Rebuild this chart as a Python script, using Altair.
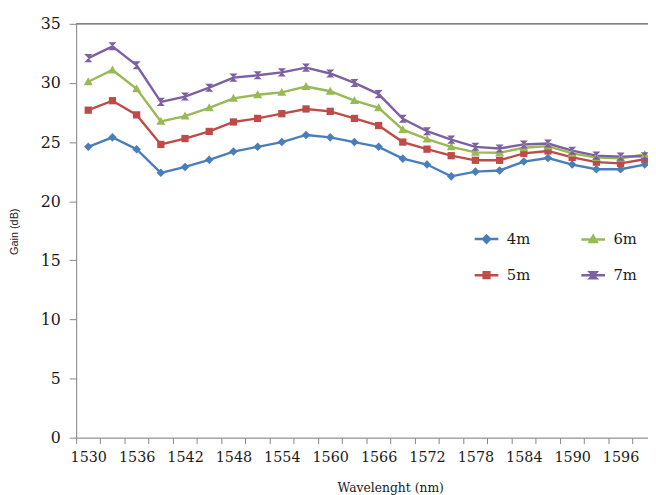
import altair as alt
import pandas as pd

# ---- data ----
wavelength = list(range(1530, 1600, 3))  # 1530 ... 1599 (24 points)
series_names = ["4m", "5m", "6m", "7m"]
gain_4m = [24.6, 25.4, 24.4, 22.4, 22.9, 23.5, 24.2, 24.6, 25.0, 25.6, 25.4, 25.0,
           24.6, 23.6, 23.1, 22.1, 22.5, 22.6, 23.35, 23.65, 23.1, 22.7, 22.7, 23.1]
gain_5m = [27.7, 28.5, 27.3, 24.8, 25.3, 25.9, 26.7, 27.0, 27.4, 27.8, 27.6, 27.0,
           26.4, 25.0, 24.4, 23.85, 23.46, 23.46, 24.05, 24.25, 23.7, 23.3, 23.2, 23.55]
gain_6m = [30.1, 31.1, 29.5, 26.75, 27.2, 27.9, 28.7, 29.0, 29.2, 29.7, 29.3, 28.5,
           27.9, 26.05, 25.25, 24.6, 24.13, 24.1, 24.52, 24.66, 24.05, 23.68, 23.63, 23.95]
gain_7m = [32.1, 33.1, 31.5, 28.4, 28.85, 29.6, 30.45, 30.65, 30.9, 31.3, 30.8, 30.0,
           29.06, 26.97, 25.92, 25.21, 24.6, 24.46, 24.8, 24.88, 24.27, 23.85, 23.77, 23.8]
y_ticks = [0, 5, 10, 15, 20, 25, 30, 35]
x_label_first = 1530
x_step = 3

colors = ["#4A7EBB", "#BE4B48", "#98B954", "#7D60A0"]
marker_paths = [
    "M0,-1L1,0L0,1L-1,0Z",                    # diamond
    "M-0.85,-0.85H0.85V0.85H-0.85Z",          # square
    "M0,-1.05L1.05,0.8H-1.05Z",               # triangle
    "M-0.95,-0.95H0.95L-0.95,0.95H0.95Z",     # hourglass
]
# legend symbols: line segment + stroked marker (inner strokes fill it)
legend_paths = [
    "M-1,0H1M0,-0.3L0.3,0L0,0.3L-0.3,0ZM0,-0.15V0.15",
    "M-1,0H1M-0.24,-0.24H0.24V0.24H-0.24ZM0,-0.2V0.2",
    "M-1,0H1M0,-0.3L0.3,0.22H-0.3ZM0,-0.1V0.2",
    "M-1,0H1M-0.26,-0.26H0.26L-0.26,0.26H0.26Z",
]

SERIF = "DejaVu Serif"
SANS = "Liberation Sans, Arial, DejaVu Sans, sans-serif"

rows = []
for name, vals in zip(series_names, [gain_4m, gain_5m, gain_6m, gain_7m]):
    for w, g in zip(wavelength, vals):
        rows.append({"wavelength": w, "gain": g, "series": name})
df = pd.DataFrame(rows)

half = x_step / 2
x_lo = x_label_first - half
boundaries = [x_lo + x_step * j for j in range(len(wavelength))]
cat_px = 24.5
plot_w = 579
x_hi = x_lo + plot_w / cat_px * x_step

label_expr = (
    f"round((datum.value - {x_lo}) / {x_step}) % 2 == 0 ? "
    f"format(datum.value + {half}, 'd') : ''"
)

x_enc = alt.X(
    "wavelength:Q",
    scale=alt.Scale(domain=[x_lo, x_hi], nice=False, zero=False),
    axis=alt.Axis(
        values=boundaries, labelExpr=label_expr, labelOffset=cat_px / 2,
        labelOverlap=False, labelFlush=False, labelBound=False,
        grid=False, tickSize=6, tickColor="#868686", domainColor="#868686",
        labelFont=SERIF, labelFontSize=14.5, labelColor="#1a1a1a",
        labelPadding=7,
        title="Wavelenght (nm)", titleFont=SERIF, titleFontSize=12.5,
        titleFontWeight="normal", titleColor="#1a1a1a",
        titleX=318, titleY=44, titleBaseline="top", titleAlign="center",
    ),
)
y_enc = alt.Y(
    "gain:Q",
    scale=alt.Scale(domain=[y_ticks[0], y_ticks[-1]], nice=False),
    axis=alt.Axis(
        values=y_ticks, grid=False, tickSize=7, tickColor="#868686",
        domainColor="#868686", labelFont=SERIF, labelFontSize=16,
        labelColor="#1a1a1a", labelPadding=9,
        title="Gain (dB)", titleFont=SANS, titleFontSize=11,
        titleFontWeight="normal", titleColor="#222222",
        titleX=-62, titleY=210, titleAngle=270, titleAlign="center",
        titleBaseline="middle",
    ),
)

color_scale = alt.Scale(domain=series_names, range=colors)

lines = alt.Chart(df).mark_line(strokeWidth=2.4).encode(
    x=x_enc, y=y_enc,
    color=alt.Color("series:N", scale=color_scale, legend=None),
)

points = alt.Chart(df).mark_point(filled=True, size=75, opacity=1).encode(
    x=x_enc, y=y_enc,
    color=alt.Color("series:N", scale=color_scale, legend=None),
    shape=alt.Shape("series:N",
                    scale=alt.Scale(domain=series_names, range=marker_paths),
                    legend=None),
)

leg = alt.Legend(
    orient="none", legendX=402, legendY=204, columns=2, title=None,
    labelFont=SERIF, labelFontSize=15, labelColor="#1a1a1a",
    symbolSize=576, symbolStrokeWidth=2.5, labelOffset=7,
    columnPadding=46, rowPadding=14, padding=0, symbolOpacity=1,
)
legend_layer = alt.Chart(df).transform_filter("false").mark_point(
    filled=False, size=576, strokeWidth=2.5, opacity=1
).encode(
    x=x_enc, y=y_enc,
    color=alt.Color("series:N", scale=alt.Scale(domain=series_names, range=colors), legend=leg),
    shape=alt.Shape("series:N", scale=alt.Scale(domain=series_names, range=legend_paths), legend=leg),
)

top_rule = alt.Chart(pd.DataFrame({"gain": [y_ticks[-1]]})).mark_rule(
    color="#404040", strokeWidth=1
).encode(y=alt.Y("gain:Q"))

chart = alt.layer(top_rule, lines, points, legend_layer).resolve_scale(
    shape="independent", color="independent"
).properties(
    width=plot_w, height=419,
    autosize=alt.AutoSizeParams(type="none"),
    padding={"left": 69, "top": 13, "right": 0, "bottom": 55},
).configure_view(stroke=None).configure(background="white")

chart.save("out.html", embed_options={"renderer": "svg", "actions": False})
